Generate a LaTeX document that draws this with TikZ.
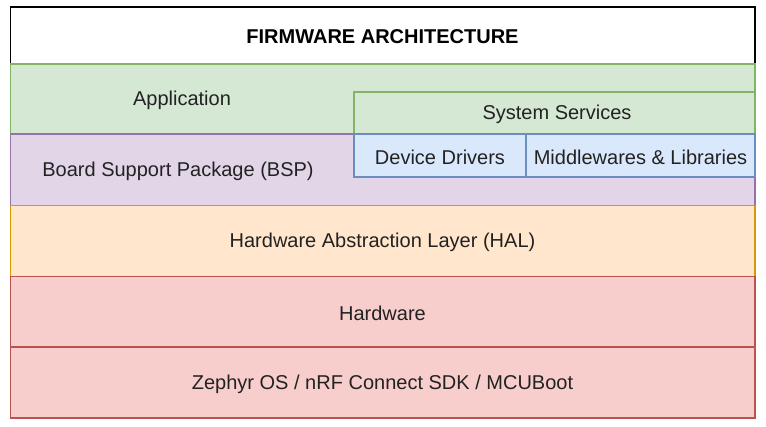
\documentclass[tikz,border=0pt]{standalone}
\usepackage{fontspec}
\setmainfont{Liberation Sans}
\definecolor{gfill}{HTML}{D5E8D4}\definecolor{gdraw}{HTML}{82B366}
\definecolor{pfill}{HTML}{E1D5E7}\definecolor{pdraw}{HTML}{9673A6}
\definecolor{ofill}{HTML}{FFE6CC}\definecolor{odraw}{HTML}{D79B00}
\definecolor{rfill}{HTML}{F8CECC}\definecolor{rdraw}{HTML}{B85450}
\definecolor{bfill}{HTML}{DAE8FC}\definecolor{bdraw}{HTML}{6C8EBF}
\definecolor{txt}{HTML}{222222}
\tikzset{
  layer/.style={line width=1.1pt},
  lbl/.style={font=\fontsize{15pt}{18pt}\selectfont, text=txt, inner sep=0pt},
}
\begin{document}
\begin{tikzpicture}[x=0.75pt,y=-0.75pt]
\useasboundingbox (0,0) rectangle (766,427);
% layers
\draw[layer, fill=white, draw=black] (10.5,7) rectangle (755,64);
\draw[layer, fill=gfill, draw=gdraw] (10.5,64) rectangle (755,134);
\draw[layer, fill=pfill, draw=pdraw] (10.5,134) rectangle (755,205.5);
\draw[layer, fill=ofill, draw=odraw] (10.5,205.5) rectangle (755,276.5);
\draw[layer, fill=rfill, draw=rdraw] (10.5,276.5) rectangle (755,347);
\draw[layer, fill=rfill, draw=rdraw] (10.5,347) rectangle (755,418);
% inner boxes
\draw[layer, fill=gfill, draw=gdraw] (354,92) rectangle (755,134);
\draw[layer, fill=bfill, draw=bdraw] (354,134) rectangle (526,177);
\draw[layer, fill=bfill, draw=bdraw] (526,134) rectangle (755,177);
% labels
\node[lbl, text=black, font=\fontsize{15pt}{18pt}\selectfont\bfseries] (title) at (382.5,36.5) {FIRMWARE ARCHITECTURE};
\node[lbl] (app) at (182,100.5) {Application};
\node[lbl] (bsp) at (178,171.5) {Board Support Package (BSP)};
\node[lbl] (hal) at (382.5,242.5) {Hardware Abstraction Layer (HAL)};
\node[lbl] (hw) at (382.5,313) {Hardware};
\node[lbl] (os) at (382.5,384) {Zephyr OS / nRF Connect SDK / MCUBoot};
\node[lbl] (sys) at (557,114.5) {System Services};
\node[lbl] (dd) at (440,157.5) {Device Drivers};
\node[lbl] (mw) at (640.5,157.5) {Middlewares \& Libraries};
\end{tikzpicture}
\end{document}
